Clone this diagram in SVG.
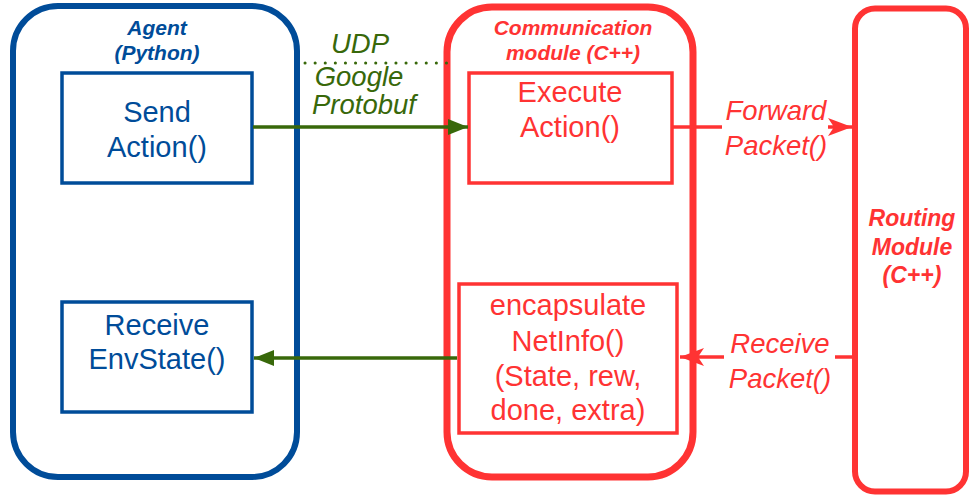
<svg xmlns="http://www.w3.org/2000/svg" width="970" height="498" viewBox="0 0 970 498">
  <defs>
    <style>
      .blue { stroke: #004C99; fill: none; }
      .red { stroke: #FF3333; fill: none; }
      .green { stroke: #38680A; fill: none; }
      .txt { font-family: "Liberation Sans", Arial, sans-serif; font-size: 29px; text-anchor: middle; }
      .title { font-family: "Liberation Sans", Arial, sans-serif; font-size: 21px; font-weight: bold; font-style: italic; text-anchor: middle; }
      .big { font-size: 23px; }
      .lbl { font-family: "Liberation Sans", Arial, sans-serif; font-size: 27.5px; font-style: italic; text-anchor: middle; }
      .tb { fill: #004C99; }
      .tr { fill: #FF3333; }
      .tg { fill: #38680A; }
    </style>
    <marker id="ahGreen" viewBox="0 0 20 16" refX="20" refY="8" markerWidth="20" markerHeight="16" markerUnits="userSpaceOnUse" orient="auto">
      <path d="M0,0 L20,8 L0,16 Z" fill="#38680A"/>
    </marker>
    <marker id="ahRed" viewBox="0 0 24 18" refX="24" refY="9" markerWidth="24" markerHeight="18" markerUnits="userSpaceOnUse" orient="auto">
      <path d="M0,0 L24,9 L0,18 L6,9 Z" fill="#FF3333"/>
    </marker>
  </defs>

  <!-- Agent (Python) container -->
  <g id="agent">
    <rect class="blue" x="13" y="6" width="284" height="471" rx="45" ry="45" stroke-width="6"/>
    <text class="title tb" x="157" y="35">Agent</text>
    <text class="title tb" x="157" y="60">(Python)</text>
  </g>

  <g id="send-action">
    <rect class="blue" x="62" y="73" width="190" height="110" stroke-width="3.5"/>
    <text class="txt tb" x="157" y="122">Send</text>
    <text class="txt tb" x="157" y="157">Action()</text>
  </g>

  <g id="receive-envstate">
    <rect class="blue" x="62" y="302" width="190" height="110" stroke-width="3.5"/>
    <text class="txt tb" x="157" y="335">Receive</text>
    <text class="txt tb" x="157" y="369">EnvState()</text>
  </g>

  <!-- Communication module (C++) container -->
  <g id="comm-module">
    <rect class="red" x="447" y="7" width="246" height="470" rx="45" ry="45" stroke-width="7"/>
    <text class="title tr" x="573" y="35">Communication</text>
    <text class="title tr" x="573" y="60">module (C++)</text>
  </g>

  <g id="execute-action">
    <rect class="red" x="469" y="73" width="203" height="110" stroke-width="3.5"/>
    <text class="txt tr" x="570" y="102">Execute</text>
    <text class="txt tr" x="570" y="137">Action()</text>
  </g>

  <g id="encapsulate-netinfo">
    <rect class="red" x="459" y="284" width="218" height="149" stroke-width="3.5"/>
    <text class="txt tr" x="568" y="315">encapsulate</text>
    <text class="txt tr" x="568" y="351">NetInfo()</text>
    <text class="txt tr" x="568" y="386">(State, rew,</text>
    <text class="txt tr" x="568" y="420">done, extra)</text>
  </g>

  <!-- Routing Module (C++) -->
  <g id="routing-module">
    <rect class="red" x="855" y="8.5" width="111" height="483" rx="20" ry="20" stroke-width="6"/>
    <text class="title big tr" x="912" y="226">Routing</text>
    <text class="title big tr" x="912" y="255">Module</text>
    <text class="title big tr" x="912" y="283">(C++)</text>
  </g>

  <!-- Connectors -->
  <g id="connectors">
    <!-- UDP separator -->
    <line class="green" x1="305" y1="63" x2="449" y2="63" stroke-width="3" stroke-dasharray="0.1 10" stroke-linecap="round"/>
    <text class="lbl tg" x="360" y="53">UDP</text>
    <text class="lbl tg" x="359" y="86">Google</text>
    <text class="lbl tg" x="364" y="114">Protobuf</text>

    <!-- Send -> Execute -->
    <line class="green" x1="253" y1="127" x2="468" y2="127" stroke-width="3.5" marker-end="url(#ahGreen)"/>
    <!-- encapsulate -> Receive -->
    <line class="green" x1="457" y1="358" x2="254" y2="358" stroke-width="3.5" marker-end="url(#ahGreen)"/>

    <!-- Forward Packet() -->
    <line class="red" x1="673" y1="127" x2="722" y2="127" stroke-width="3.5"/>
    <line class="red" x1="828" y1="127" x2="852" y2="127" stroke-width="3.5" marker-end="url(#ahRed)"/>
    <text class="lbl tr" x="776" y="120">Forward</text>
    <text class="lbl tr" x="776" y="155">Packet()</text>

    <!-- Receive Packet() -->
    <line class="red" x1="852" y1="357" x2="835" y2="357" stroke-width="3.5"/>
    <line class="red" x1="724" y1="357" x2="680" y2="357" stroke-width="3.5" marker-end="url(#ahRed)"/>
    <text class="lbl tr" x="780" y="353">Receive</text>
    <text class="lbl tr" x="780" y="388">Packet()</text>
  </g>
</svg>
